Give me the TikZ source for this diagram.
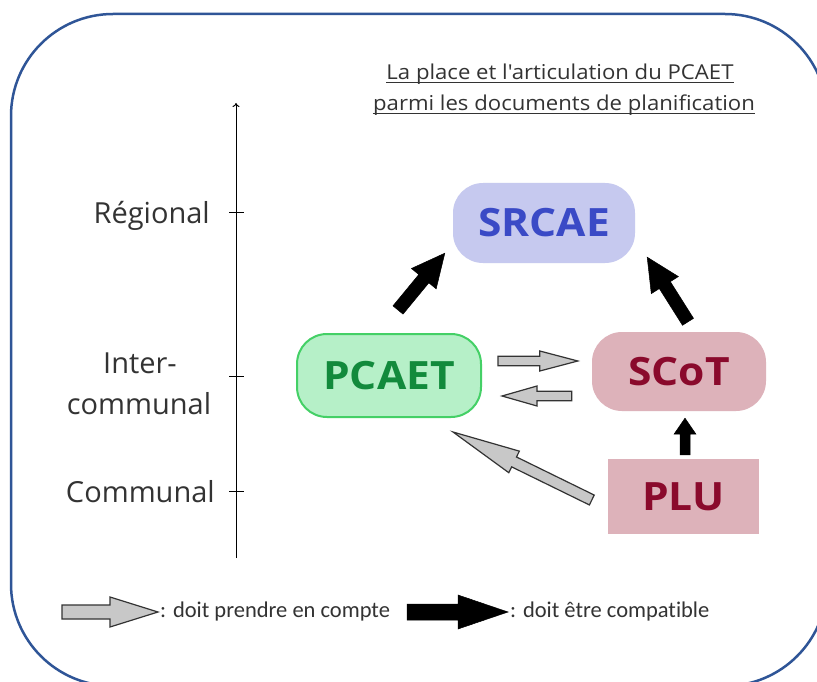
\documentclass[tikz,border=0pt]{standalone}
\usepackage{fontspec}
\setmainfont{Open Sans}
\newfontfamily\legfont[Ligatures=NoCommon]{Carlito}
\newfontfamily\boxfont[FakeStretch=1.09]{Open Sans}
\newfontfamily\ttlfont[FakeStretch=1.08]{Open Sans}
\usetikzlibrary{calc,arrows.meta}
\definecolor{framec}{HTML}{2F5597}
\definecolor{srcaefill}{HTML}{C6C9EF}
\definecolor{srcaetext}{HTML}{3A4AC6}
\definecolor{pcaetfill}{HTML}{B6F0C8}
\definecolor{pcaetline}{HTML}{44D066}
\definecolor{pcaettext}{HTML}{128A3C}
\definecolor{redfill}{HTML}{DDB2BA}
\definecolor{redtext}{HTML}{8A0A2C}
\definecolor{grayfill}{HTML}{C8C8C8}
\definecolor{labeltext}{HTML}{333333}
\newcommand\blkarrow[6]{%
  \coordinate (ba-n) at ($(#2)!#5!(#1)$);
  \path[#6] ($(#1)!#3!90:(#2)$) -- ($(ba-n)!#3!90:(#2)$) -- ($(ba-n)!#4!90:(#2)$) -- (#2)
    -- ($(ba-n)!#4!-90:(#2)$) -- ($(ba-n)!#3!-90:(#2)$) -- ($(#1)!#3!-90:(#2)$) -- cycle;}
\tikzset{
  docbox/.style={inner sep=0pt, font=\boxfont\bfseries\fontsize{39}{42}\selectfont},
  lvl/.style={text=labeltext, inner sep=0pt, font=\fontsize{29}{32}\selectfont},
  ttl/.style={text=labeltext, inner sep=0pt, font=\ttlfont\fontsize{20.5}{23}\selectfont},
  leg/.style={text=labeltext, inner sep=0pt, font=\legfont\fontsize{22.5}{26}\selectfont},
  blackarr/.style={fill=black, draw=black, line width=0.5pt, line join=miter},
  grayarr/.style={fill=grayfill, draw=black!80, line width=1.2pt, line join=miter},
}
\begin{document}
\begin{tikzpicture}[x=1pt,y=-1pt]
\useasboundingbox (0,0) rectangle (817,682);
\clip (0,0) rectangle (817,682);
\fill[white] (0,0) rectangle (817,682);
\draw[framec, line width=2.5pt, rounded corners=102pt] (11,14) rectangle (827,686);

% title
\node[ttl, anchor=base] (t1) at (560,80) {La place et l\char"0027 articulation du PCAET};
\node[ttl, anchor=base] (t2) at (564,111) {parmi les documents de planification};
\draw[labeltext, line width=1pt] ([yshift=-3pt]t1.base west) -- ([yshift=-3pt]t1.base east);
\draw[labeltext, line width=1pt] ([yshift=-3pt]t2.base west) -- ([yshift=-3pt]t2.base east);

% axis
\coordinate (axb) at (236,558);
\coordinate (axt) at (236,103);
\draw[line width=1pt, -{To[length=4pt,width=7pt]}] (axb) -- (axt);
\foreach \yy/\nm in {212/r,376/i,491/c}{
  \coordinate (tk\nm) at (236,\yy);
  \draw[line width=1pt] ([xshift=-7pt]tk\nm) -- ([xshift=8pt]tk\nm);
}
\node[lvl, anchor=base east] (lr) at (210,223) {Régional};
\node[lvl, anchor=base] (li1) at (140,373) {Inter-};
\node[lvl, anchor=base] (li2) at (139,414) {communal};
\node[lvl, anchor=base east] (lc) at (215,502) {Communal};

% document nodes
\node[docbox, fill=srcaefill, text=srcaetext, rounded corners=30pt,
  minimum width=182pt, minimum height=80pt] (srcae) at (544,223) {SRCAE};
\node[docbox, fill=pcaetfill, draw=pcaetline, line width=2pt, text=pcaettext, rounded corners=30pt,
  minimum width=184pt, minimum height=83pt] (pcaet) at (389,375.5) {PCAET};
\node[docbox, fill=redfill, text=redtext, rounded corners=30pt,
  minimum width=174pt, minimum height=79pt] (scot) at (679,371.5) {SCoT};
\node[docbox, fill=redfill, text=redtext,
  minimum width=151pt, minimum height=75pt] (plu) at (683.5,496.5) {PLU};

% connector ends
\coordinate (k1s) at ($(pcaet.north)+(9,-23)$);
\coordinate (k1e) at ($(srcae.south west)+(-8,-10)$);
\coordinate (k2s) at ($(scot.north)+(9,-10)$);
\coordinate (k2e) at ($(srcae.south east)+(12,-6)$);
\coordinate (k3s) at ($(plu.north)+(1.5,-4)$);
\coordinate (k3e) at ($(scot.south)+(6,7)$);
\coordinate (g1s) at ($(pcaet.east)+(16,-14.5)$);
\coordinate (g1e) at ($(scot.west)+(-14,-10.5)$);
\coordinate (g2s) at ($(scot.west)+(-20,24.5)$);
\coordinate (g2e) at ($(pcaet.east)+(20,20.5)$);
\coordinate (g3s) at ($(plu.west)+(-16,3.5)$);
\coordinate (g3e) at ($(pcaet.south)+(64,14)$);

\blkarrow{k1s}{k1e}{6.5pt}{16pt}{33pt}{blackarr}
\blkarrow{k2s}{k2e}{6.5pt}{16pt}{33pt}{blackarr}
\blkarrow{k3s}{k3e}{5pt}{11pt}{16pt}{blackarr}
\blkarrow{g1s}{g1e}{4.7pt}{10pt}{38pt}{grayarr}
\blkarrow{g2s}{g2e}{4.7pt}{10pt}{35pt}{grayarr}
\blkarrow{g3s}{g3e}{5.5pt}{12pt}{68pt}{grayarr}

% legend
\coordinate (lg1s) at (62,612);
\coordinate (lg1e) at (158,612);
\coordinate (lg2s) at (407,612);
\coordinate (lg2e) at (508,612);
\blkarrow{lg1s}{lg1e}{7pt}{15pt}{48pt}{grayarr}
\blkarrow{lg2s}{lg2e}{8pt}{17pt}{50pt}{blackarr}
\node[leg, anchor=base west] (lt1) at (160,617) {: doit prendre en compte};
\node[leg, anchor=base west] (lt2) at (510,617) {: doit être compatible};
\end{tikzpicture}
\end{document}
